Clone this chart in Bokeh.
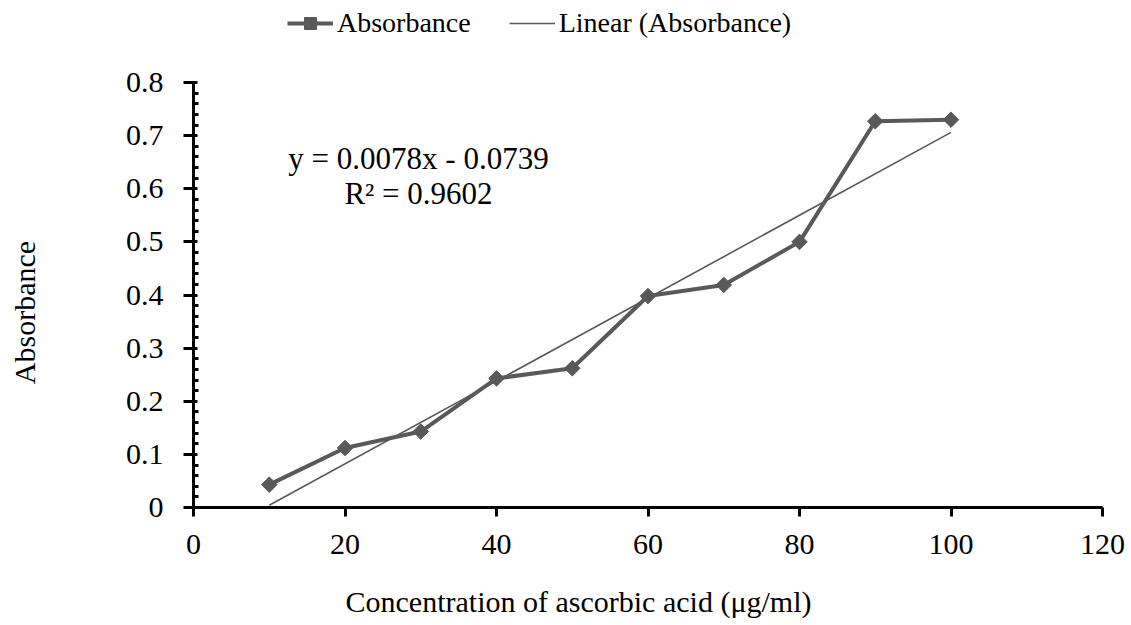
import math
from bokeh.plotting import figure
from bokeh.models import (Range1d, FixedTicker, NumeralTickFormatter, Label,
                          Legend, LegendItem, ColumnDataSource)
from bokeh.embed import file_html
from bokeh.resources import INLINE

# data
conc = [10, 20, 30, 40, 50, 60, 70, 80, 90, 100]
absorbance = [0.043, 0.112, 0.143, 0.243, 0.262, 0.398, 0.419, 0.500, 0.727, 0.730]
slope = 0.0078
intercept = -0.0739
r2 = 0.9602
x_ticks = [0, 20, 40, 60, 80, 100, 120]
y_ticks = [0, 0.1, 0.2, 0.3, 0.4, 0.5, 0.6, 0.7, 0.8]
trend_x = [conc[0], conc[-1]]
trend_y = [slope * x + intercept for x in trend_x]

FONT = "Liberation Serif"
COL = "#595959"

# layout: the frame fills the whole figure; pixel anchors of the axes
W, H = 1131, 625
X0_PX, X120_PX = 193, 1102
Y0_PX, Y8_PX = 507, 82
ppx = (X120_PX - X0_PX) / 120.0
ppy = (Y0_PX - Y8_PX) / 0.8
x_lo, x_hi = -X0_PX / ppx, 120 + (W - X120_PX) / ppx
y_lo, y_hi = -(H - Y0_PX) / ppy, 0.8 + Y8_PX / ppy


def px_x(px):
    return (px - X0_PX) / ppx


def px_y(py):
    return (Y0_PX - py) / ppy


p = figure(width=W, height=H, output_backend="svg", toolbar_location=None,
           x_range=Range1d(x_lo, x_hi), y_range=Range1d(y_lo, y_hi),
           min_border_left=0, min_border_right=0, min_border_top=0, min_border_bottom=0)
p.outline_line_color = None
p.xgrid.grid_line_color = None
p.ygrid.grid_line_color = None

src = ColumnDataSource(dict(x=conc, y=absorbance))
r_line = p.line("x", "y", source=src, line_color=COL, line_width=4)
r_mark = p.scatter("x", "y", source=src, marker="square", size=11, angle=math.pi / 4,
                   fill_color=COL, line_color=COL)
r_trend = p.line(trend_x, trend_y, line_color=COL, line_width=1.6)

# x axis pinned at y = 0
xa = p.xaxis[0]
xa.fixed_location = 0
xa.bounds = (0, 120)
xa.ticker = FixedTicker(ticks=x_ticks)
xa.axis_line_width = 3
xa.major_tick_line_width = 3
xa.major_tick_out = 9
xa.major_tick_in = 0
xa.minor_tick_line_color = None
xa.major_label_text_font = FONT
xa.major_label_text_font_size = "30px"
xa.major_label_text_color = "black"
xa.major_label_standoff = 18

# y axis pinned at x = 0
ya = p.yaxis[0]
ya.fixed_location = 0
ya.bounds = (0, 0.8)
minor = [round(t + k * 0.02, 2) for t in y_ticks[:-1] for k in range(1, 5)]
ya.ticker = FixedTicker(ticks=y_ticks, minor_ticks=minor)
ya.formatter = NumeralTickFormatter(format="0.[0]")
ya.axis_line_width = 3
ya.major_tick_line_width = 3
ya.major_tick_out = 10
ya.major_tick_in = 4
ya.minor_tick_line_width = 3
ya.minor_tick_in = 5
ya.minor_tick_out = 0
ya.major_label_text_font = FONT
ya.major_label_text_font_size = "30px"
ya.major_label_text_color = "black"
ya.major_label_standoff = 20

# axis titles
p.add_layout(Label(x=px_x(578), y=px_y(601), text="Concentration of ascorbic acid (μg/ml)",
                   text_align="center", text_baseline="middle", text_font=FONT,
                   text_font_size="30px", text_color="black"))
p.add_layout(Label(x=px_x(24), y=px_y(312), text="Absorbance", angle=math.pi / 2,
                   text_align="center", text_baseline="middle", text_font=FONT,
                   text_font_size="30px", text_color="black"))

# equation label
p.add_layout(Label(x=px_x(418), y=px_y(158), text="y = %.4fx - %.4f" % (slope, -intercept),
                   text_align="center", text_baseline="middle", text_font=FONT,
                   text_font_size="31px", text_color="black"))
p.add_layout(Label(x=px_x(418), y=px_y(193), text="R² = %.4f" % r2, text_align="center",
                   text_baseline="middle", text_font=FONT, text_font_size="31px",
                   text_color="black"))

legend = Legend(items=[LegendItem(label="Absorbance", renderers=[r_line, r_mark]),
                       LegendItem(label="Linear (Absorbance)", renderers=[r_trend])],
                orientation="horizontal", location=(287, H - 39),
                label_text_font=FONT, label_text_font_size="28px", label_text_color="black",
                glyph_width=46, glyph_height=30, label_height=30, label_standoff=4,
                spacing=38, padding=0, margin=0,
                border_line_color=None, background_fill_alpha=0)
p.add_layout(legend, "center")

open("out.html", "w").write(file_html(p, INLINE))
